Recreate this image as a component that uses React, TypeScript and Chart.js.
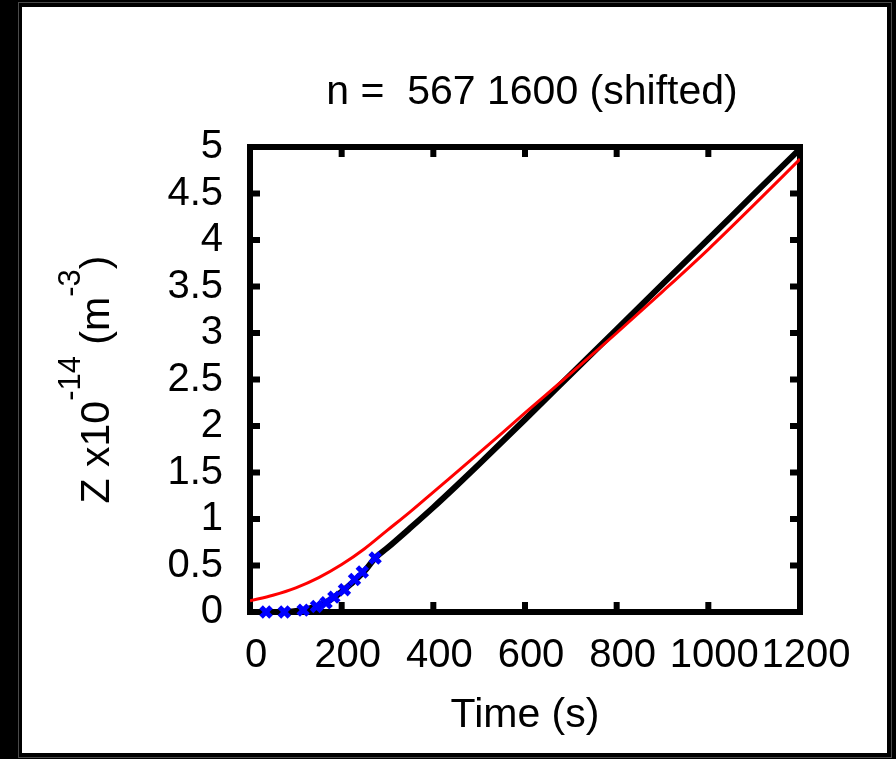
import React, { useEffect, useRef } from "react";
import { Chart, registerables } from "chart.js";

Chart.register(...registerables);

// ---- data ----
const fitTime = [0, 60, 100, 130, 160, 190, 220, 250, 273, 300, 350, 400, 450, 500, 600, 700, 800, 900, 1000, 1100, 1200];
const fitZ = [0, 0, 0.01, 0.04, 0.09, 0.18, 0.3, 0.44, 0.58, 0.69, 0.905, 1.125, 1.355, 1.59, 2.07, 2.555, 3.04, 3.525, 4.01, 4.495, 4.98];

const measTime = [35, 75, 116, 145, 166, 183, 206, 228, 245, 273];
const measZ = [0.0, 0.0, 0.02, 0.06, 0.1, 0.16, 0.24, 0.35, 0.43, 0.58];

const modelTime = [0, 50, 100, 150, 200, 250, 300, 350, 400, 500, 600, 700, 800, 900, 1000, 1100, 1200];
const modelZ = [0.12, 0.18, 0.26, 0.37, 0.51, 0.68, 0.88, 1.08, 1.29, 1.71, 2.14, 2.565, 3.0, 3.445, 3.9, 4.38, 4.87];

const xTicks = [0, 200, 400, 600, 800, 1000, 1200];
const yTicks = [0, 0.5, 1, 1.5, 2, 2.5, 3, 3.5, 4, 4.5, 5];

const titleText = "n =  567 1600 (shifted)";
const xTitle = "Time (s)";
const yTitleParts = [
  { text: "Z x10", sup: false },
  { text: "-14", sup: true },
  { text: " (m", sup: false },
  { text: "-3", sup: true },
  { text: ")", sup: false },
];

const FONT = "'Liberation Sans', Arial, Helvetica, sans-serif";

const framePlugin = {
  id: "gnuFrame",
  beforeDatasetsDraw(chart: any) {
    const { ctx, chartArea: a, scales } = chart;
    ctx.save();
    ctx.strokeStyle = "#000";
    ctx.lineWidth = 6;
    ctx.strokeRect(a.left, a.top, a.right - a.left, a.bottom - a.top);
    ctx.lineWidth = 6;
    ctx.beginPath();
    const tl = 10;
    xTicks.forEach((v) => {
      const x = scales.x.getPixelForValue(v);
      ctx.moveTo(x, a.bottom);
      ctx.lineTo(x, a.bottom - tl);
      ctx.moveTo(x, a.top);
      ctx.lineTo(x, a.top + tl);
    });
    yTicks.forEach((v) => {
      const y = scales.y.getPixelForValue(v);
      ctx.moveTo(a.left, y);
      ctx.lineTo(a.left + tl, y);
      ctx.moveTo(a.right, y);
      ctx.lineTo(a.right - tl, y);
    });
    ctx.stroke();
    ctx.restore();
  },
  afterDraw(chart: any) {
    const { ctx, chartArea: a } = chart;
    const cx = (a.left + a.right) / 2;
    const cy = (a.top + a.bottom) / 2;
    ctx.save();
    ctx.fillStyle = "#000";
    ctx.textBaseline = "alphabetic";
    ctx.textAlign = "center";
    ctx.font = `41px ${FONT}`;
    ctx.fillText(titleText, cx + 7, a.top - 43);
    ctx.fillText(xTitle, cx, a.bottom + 115);

    // y title with superscripts
    const mainFont = `41px ${FONT}`;
    const supFont = `31px ${FONT}`;
    let total = 0;
    const widths = yTitleParts.map((p) => {
      ctx.font = p.sup ? supFont : mainFont;
      const w = ctx.measureText(p.text).width;
      total += w;
      return w;
    });
    ctx.translate(109, cy);
    ctx.rotate(-Math.PI / 2);
    ctx.textAlign = "left";
    let x = -total / 2;
    yTitleParts.forEach((p, i) => {
      ctx.font = p.sup ? supFont : mainFont;
      ctx.fillText(p.text, x, p.sup ? -29 : 0);
      x += widths[i];
    });
    ctx.restore();
  },
};

export default function App() {
  const ref = useRef<HTMLCanvasElement | null>(null);

  useEffect(() => {
    if (!ref.current) return;
    const chart = new Chart(ref.current, {
      type: "line",
      data: {
        datasets: [
          {
            label: "model",
            data: modelTime.map((t, i) => ({ x: t, y: modelZ[i] })),
            borderColor: "#ff0000",
            borderWidth: 3,
            pointRadius: 0,
            fill: false,
            cubicInterpolationMode: "monotone",
          },
          {
            label: "measured",
            data: measTime.map((t, i) => ({ x: t, y: measZ[i] })),
            showLine: false,
            pointStyle: "crossRot",
            pointRadius: 7,
            pointBorderWidth: 5,
            pointBorderColor: "#0000ff",
            pointBackgroundColor: "#0000ff",
            borderColor: "#0000ff",
            clip: false,
          },
          {
            label: "fit",
            data: fitTime.map((t, i) => ({ x: t, y: fitZ[i] })),
            borderColor: "#000000",
            borderWidth: 6,
            pointRadius: 0,
            fill: false,
            cubicInterpolationMode: "monotone",
          },
        ],
      },
      options: {
        responsive: false,
        animation: false,
        events: [],
        layout: { padding: { left: 0, right: 96, top: 147, bottom: 0 } },
        plugins: {
          legend: { display: false },
          tooltip: { enabled: false },
          title: { display: false },
        },
        scales: {
          x: {
            type: "linear",
            min: 0,
            max: 1200,
            afterFit: (s: any) => {
              s.height = 147;
            },
            afterBuildTicks: (s: any) => {
              s.ticks = xTicks.map((v) => ({ value: v }));
            },
            grid: { display: false, drawTicks: false },
            border: { display: false },
            ticks: {
              color: "#000",
              font: { family: FONT, size: 40 },
              padding: 20,
              maxRotation: 0,
              minRotation: 0,
              autoSkip: false,
              labelOffset: 6,
              callback: (v: any) => String(v),
            },
          },
          y: {
            type: "linear",
            min: 0,
            max: 5,
            afterFit: (s: any) => {
              s.width = 250;
            },
            afterBuildTicks: (s: any) => {
              s.ticks = yTicks.map((v) => ({ value: v }));
            },
            grid: { display: false, drawTicks: false },
            border: { display: false },
            ticks: {
              color: "#000",
              font: { family: FONT, size: 40 },
              padding: 27,
              autoSkip: false,
              callback: (v: any) => String(v),
            },
          },
        },
      },
      plugins: [framePlugin],
    });
    return () => chart.destroy();
  }, []);

  return (
    <div style={{ position: "fixed", left: 0, top: 0, width: 896, height: 759, background: "#000", overflow: "hidden" }}>
      <div
        style={{
          position: "absolute",
          left: 18,
          top: 2,
          width: 874,
          height: 756,
          border: "1px solid #4a4a4a",
          boxSizing: "border-box",
        }}
      />
      <div style={{ position: "absolute", left: 22, top: 7, width: 865, height: 746, background: "#fff" }} />
      <canvas
        ref={ref}
        width={896}
        height={759}
        style={{ position: "absolute", left: 0, top: 0, width: 896, height: 759, display: "block" }}
      />
    </div>
  );
}
